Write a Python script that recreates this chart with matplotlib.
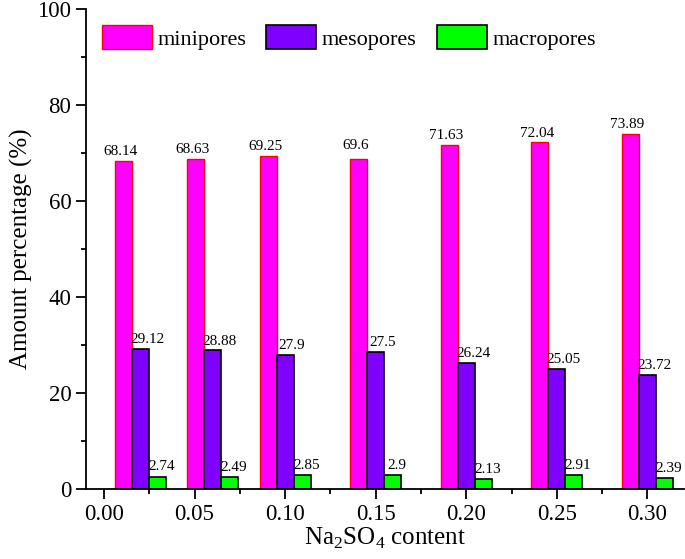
import matplotlib
matplotlib.use("Agg")
import matplotlib.pyplot as plt
from matplotlib.ticker import MultipleLocator

plt.rcParams['font.family'] = ['Liberation Serif', 'DejaVu Serif']
plt.rcParams['mathtext.fontset'] = 'custom'
plt.rcParams['mathtext.rm'] = 'Liberation Serif'

# data
group_x = [0.02, 0.06, 0.10, 0.15, 0.20, 0.25, 0.30]
tick_values = [0.00, 0.05, 0.10, 0.15, 0.20, 0.25, 0.30]
tick_labels = ["0.00", "0.05", "0.10", "0.15", "0.20", "0.25", "0.30"]

minipores = [68.3, 68.75, 69.4, 68.7, 71.7, 72.2, 74.0]
mesopores = [29.2, 28.9, 27.9, 28.5, 26.3, 25.0, 23.75]
macropores = [2.4, 2.4, 2.9, 2.9, 2.15, 2.9, 2.3]

mini_labels = ["68.14", "68.63", "69.25", "69.6", "71.63", "72.04", "73.89"]
meso_labels = ["29.12", "28.88", "27.9", "27.5", "26.24", "25.05", "23.72"]
macro_labels = ["2.74", "2.49", "2.85", "2.9", "2.13", "2.91", "2.39"]

series_names = ["minipores", "mesopores", "macropores"]

fig = plt.figure(figsize=(6.85, 5.59), dpi=100)
ax = fig.add_axes([86/685, 70/559, 1 - 86/685 - 0.001, (489 - 9)/559])

w = 0.0094
xm = [x - w for x in group_x]
xs = list(group_x)
xM = [x + w for x in group_x]

b1 = ax.bar(xm, minipores, width=w, color='#FF00FF', edgecolor='#FF0000', linewidth=1.0, label=series_names[0])
b2 = ax.bar(xs, mesopores, width=w, color='#8000FF', edgecolor='#000000', linewidth=1.2, label=series_names[1])
b3 = ax.bar(xM, macropores, width=w, color='#00FF00', edgecolor='#000000', linewidth=1.2, label=series_names[2])

def lab(xv, hv, texts, dx):
    for x, h, t in zip(xv, hv, texts):
        y = max(h, float(t))
        ax.annotate(t, (x, y), xytext=(dx, 2), textcoords='offset points',
                    ha='center', va='bottom', fontsize=11)

lab(xm, minipores, mini_labels, -2)
lab(xs, mesopores, meso_labels, 5)
lab(xM, macropores, macro_labels, 3)

ax.set_xlim(-0.0099, 0.3204)
ax.set_ylim(0, 100)
ax.set_xticks(tick_values)
ax.set_xticklabels(tick_labels)
ax.xaxis.set_minor_locator(MultipleLocator(0.025))
ax.yaxis.set_major_locator(MultipleLocator(20))
ax.yaxis.set_minor_locator(MultipleLocator(10))

for s in ['top', 'right']:
    ax.spines[s].set_visible(False)
for s in ['left', 'bottom']:
    ax.spines[s].set_linewidth(1.3)

ax.tick_params(which='major', direction='out', length=7, width=1.3, labelsize=16.5)
ax.tick_params(which='minor', direction='out', length=3.5, width=1.3)

ax.set_xlabel("Na$_2$SO$_4$ content", fontsize=18, labelpad=1)
ax.set_ylabel("Amount percentage (%)", fontsize=18, labelpad=3)

fig.legend(handles=[b1, b2, b3], labels=series_names, loc='upper left',
           bbox_to_anchor=(102/685, 1 - 25/559), ncol=3, frameon=False,
           fontsize=16, handlelength=2.25, handleheight=1.3,
           handletextpad=0.25, columnspacing=0.9, borderpad=0, borderaxespad=0)

fig.savefig("out.png", dpi=100)
